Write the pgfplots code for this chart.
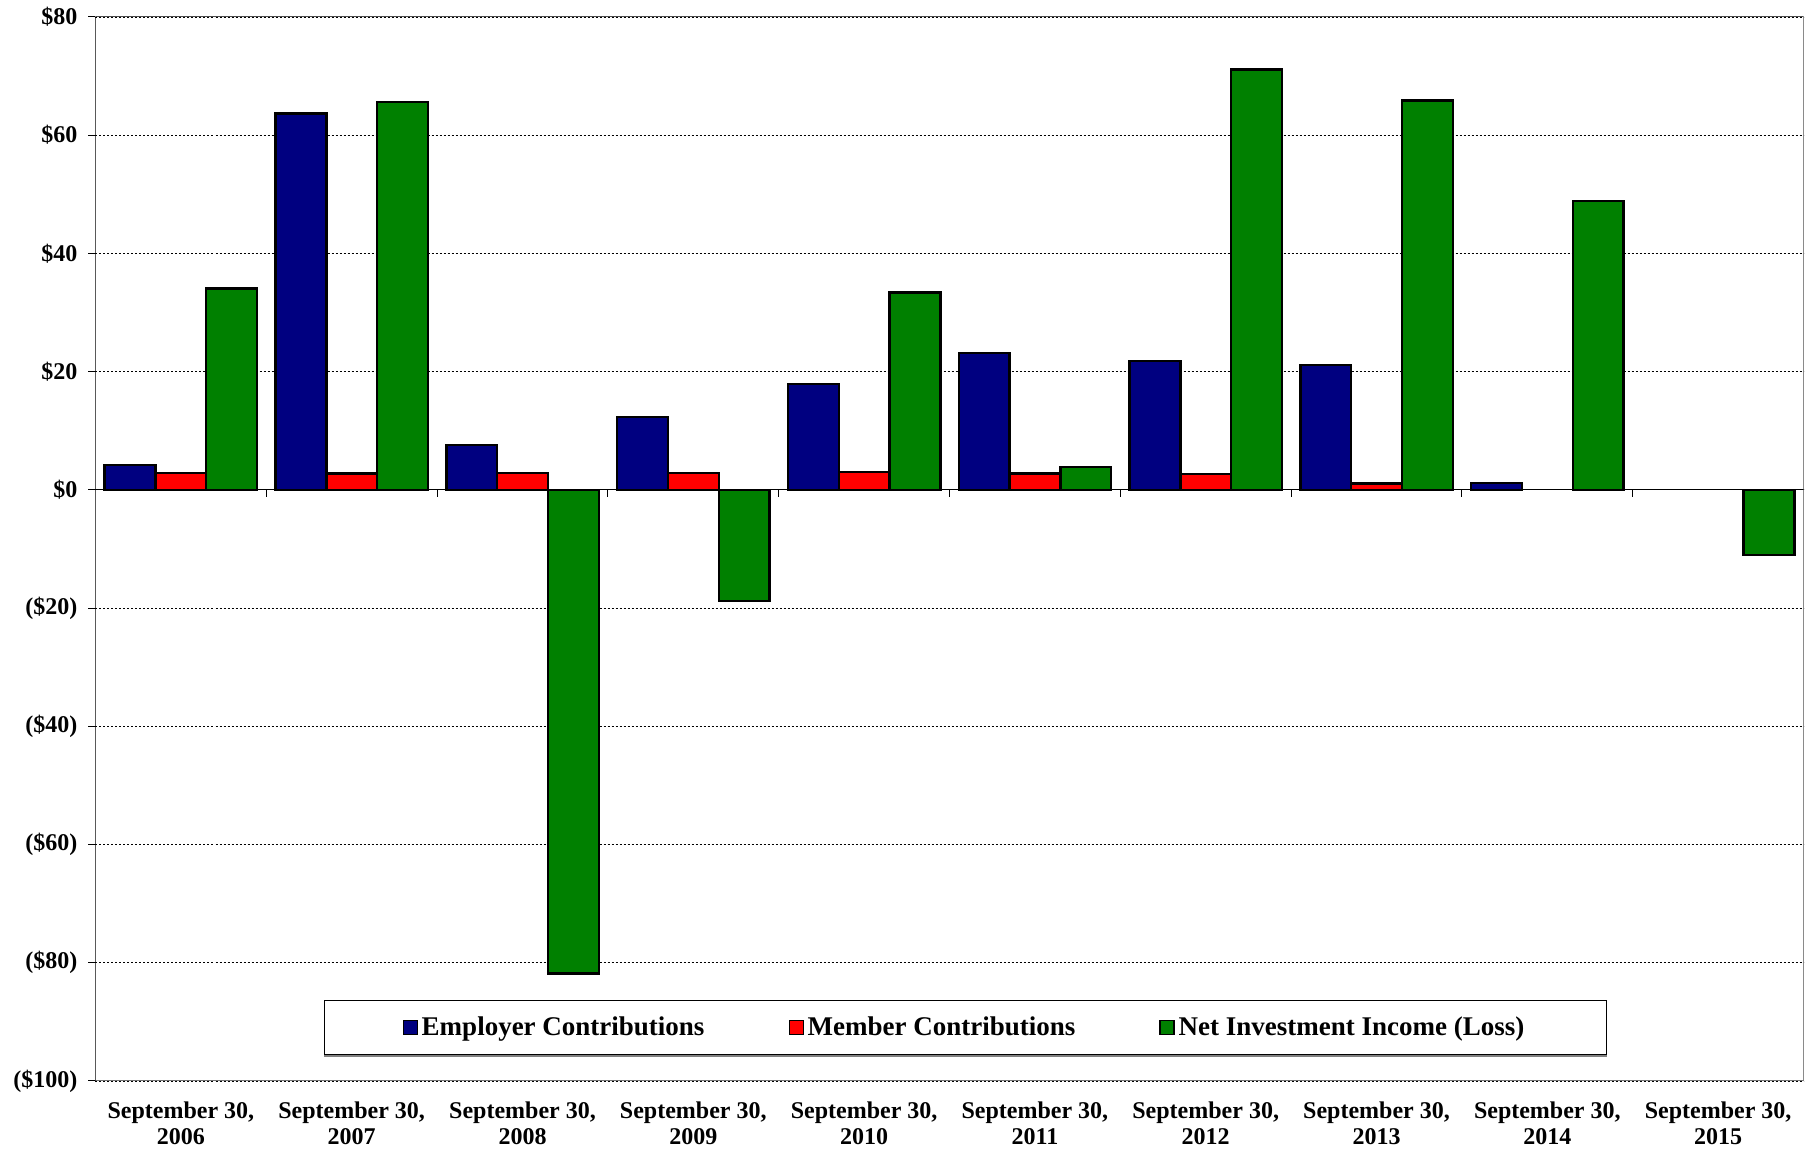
\documentclass[border=0pt]{standalone}
\usepackage{fontspec}
\setmainfont{Liberation Serif}
\usepackage{pgfplots}
\pgfplotsset{compat=1.18}

\definecolor{empblue}{RGB}{0,0,128}
\definecolor{memred}{RGB}{255,0,0}
\definecolor{netgreen}{RGB}{0,128,0}

\pgfplotsset{
  sq legend/.style={legend image code/.code={
      \draw[##1, line width=0.6pt] (0pt,-3.5pt) rectangle (7pt,3.5pt);}},
}

\begin{document}
\begin{tikzpicture}
\begin{axis}[
  scale only axis,
  width=854pt, height=532pt,
  xmin=-0.5, xmax=9.5,
  ymin=-100, ymax=80,
  ybar=0pt, bar width=25.4pt,
  axis line style={draw=none},
  xtick={0,...,9},
  xticklabels={{September 30,\\2006},{September 30,\\2007},{September 30,\\2008},
               {September 30,\\2009},{September 30,\\2010},{September 30,\\2011},
               {September 30,\\2012},{September 30,\\2013},{September 30,\\2014},
               {September 30,\\2015}},
  xtick style={draw=none},
  xticklabel style={align=center, font=\bfseries\fontsize{12}{13.3}\selectfont, yshift=-3.2pt},
  ytick={-100,-80,...,80},
  yticklabels={(\$100),(\$80),(\$60),(\$40),(\$20),\$0,\$20,\$40,\$60,\$80},
  yticklabel style={font=\bfseries\fontsize{12}{14}\selectfont, xshift=-2pt},
  ytick pos=left, xtick pos=bottom,
  tick align=outside,
  major tick length=3.5pt,
  ytick style={black, line width=0.5pt},
  ymajorgrids,
  major grid style={black, line width=0.4pt, dash pattern=on 1pt off 1pt},
  legend columns=3,
  legend style={
    name=keybox,
    at={(0.1338,0.0761)}, anchor=north west,
    draw=black, line width=0.5pt, fill=white,
    inner xsep=39pt, inner ysep=7pt,
    font=\bfseries\fontsize{13.5}{15}\selectfont,
    nodes={inner xsep=2pt, inner ysep=1pt},
    /tikz/every even column/.append style={column sep=40pt},
  },
]
\addplot[fill=empblue, draw=black, line width=1.2pt, sq legend] coordinates
  {(0,4.2) (1,63.7) (2,7.6) (3,12.3) (4,17.9) (5,23.2) (6,21.8) (7,21.1) (8,1.2)};
\addplot[fill=memred, draw=black, line width=1.2pt, sq legend] coordinates
  {(0,2.9) (1,2.8) (2,2.9) (3,2.9) (4,3.0) (5,2.8) (6,2.7) (7,1.1)};
\addplot[fill=netgreen, draw=black, line width=1.2pt, sq legend] coordinates
  {(0,34.1) (1,65.6) (2,-81.8) (3,-18.8) (4,33.4) (5,3.9) (6,71.1) (7,65.9) (8,48.9) (9,-11.0)};
\legend{Employer Contributions, Member Contributions, Net Investment Income (Loss)}

% plot area frame
\draw[black!70, line width=0.5pt] (rel axis cs:0,1) -- (rel axis cs:1,1) -- (rel axis cs:1,0);
\draw[black!55, line width=1pt] (rel axis cs:0,0) -- (rel axis cs:1,0);
\draw[black, line width=0.6pt] (rel axis cs:0,0) -- (rel axis cs:0,1);
% category axis along zero, with ticks between the groups
\draw[black, line width=0.6pt] (axis cs:-0.5,0) -- (axis cs:9.5,0);
\pgfplotsinvokeforeach{0.5,1.5,2.5,3.5,4.5,5.5,6.5,7.5,8.5}{
  \draw[black, line width=0.5pt] (axis cs:#1,0) -- ([yshift=-3.5pt]axis cs:#1,0);
}
\coordinate (bbsw) at (rel axis cs:0,0);
\coordinate (bbne) at (rel axis cs:1,1);
\end{axis}
% grey shadow under the legend box
\draw[black!50, line width=1pt] ([yshift=-0.75pt]keybox.south west) -- ([yshift=-0.75pt]keybox.south east);
\pgfresetboundingbox
\path ([shift={(-47.75pt,-34.5pt)}]bbsw) rectangle ([shift={(3.75pt,8.5pt)}]bbne);
\end{tikzpicture}
\end{document}
